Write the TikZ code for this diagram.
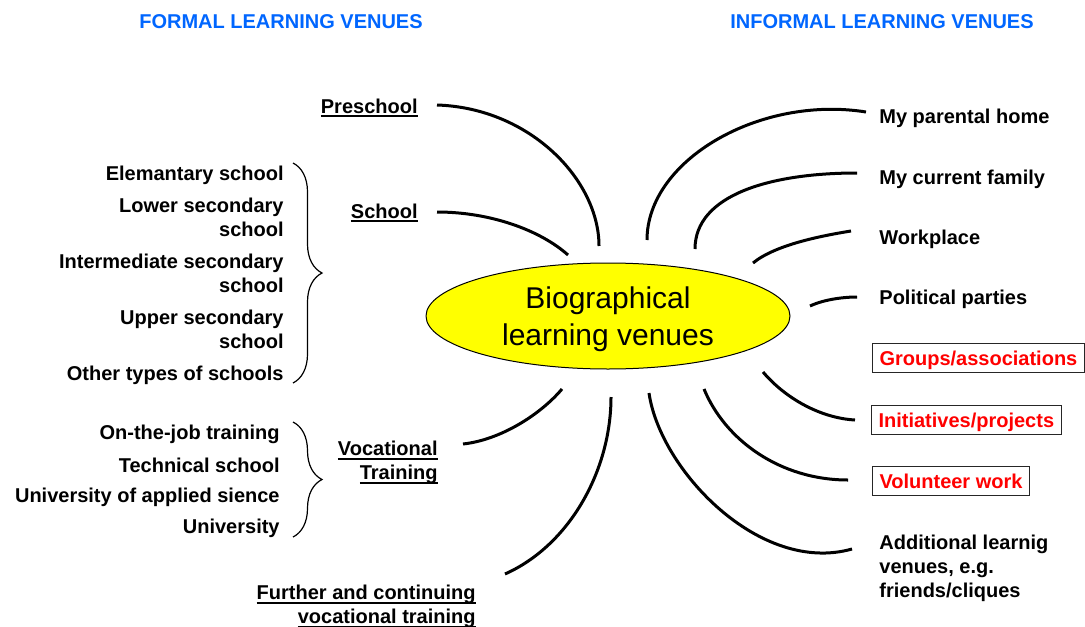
\documentclass[tikz,border=0pt]{standalone}
\usepackage{fontspec}
\setmainfont{Liberation Sans}
\usetikzlibrary{shapes.geometric,decorations.pathreplacing}
\definecolor{venueblue}{HTML}{0066FF}
\definecolor{venuered}{HTML}{FF0000}
\definecolor{venueyellow}{HTML}{FFFF00}
% underline at a fixed depth, also under descenders
\newcommand\venueul[1]{\setbox0=\hbox{#1}\rlap{\rule[-1.8pt]{\wd0}{0.8pt}}\box0}

\begin{document}
\begin{tikzpicture}[
    x=0.5pt,
    y=-0.5pt,
    font=\fontsize{10pt}{12pt}\selectfont\bfseries,
    head/.style={text=venueblue, inner sep=0pt, anchor=base},
    lab/.style={inner sep=0pt},
    tag/.style={draw=black!85, line width=0.5pt, text=venuered, inner xsep=3.5pt, inner ysep=3.5pt, text height=7.2pt, text depth=0pt, anchor=base west},
    hub/.style={ellipse, draw=black, line width=0.5pt, fill=venueyellow, minimum width=182pt, minimum height=53pt, inner sep=0pt, align=center, font=\fontsize{15pt}{18.5pt}\selectfont\mdseries, text depth=0pt},
    spoke/.style={line width=1.5pt},
    brace/.style={decorate, decoration={brace, amplitude=14.5pt}, line width=0.6pt}
  ]
    \useasboundingbox (0,0) rectangle (1085,626);

    \node[head] (formal) at (281,29) {FORMAL LEARNING VENUES};
    \node[head] (informal) at (882,29) {INFORMAL LEARNING VENUES};

    \node[hub] (hub) at (608,316) {Biographical\\learning venues};

    % formal venues
    \node[lab, anchor=base east] (pre) at (418,113) {\venueul{Preschool}};
    \node[lab, anchor=base east] (school) at (418,218) {\venueul{School}};
    \node[lab, anchor=north east, align=right] (voc) at (438,441) {\venueul{Vocational}\\\venueul{Training}};
    \node[lab, anchor=north east, align=right] (further) at (476,585) {\venueul{Further and continuing}\\\venueul{vocational training}};

    \node[lab, anchor=base east] (elem) at (284,180) {Elemantary school};
    \node[lab, anchor=north east, align=right] (lower) at (284,198) {Lower secondary\\school};
    \node[lab, anchor=north east, align=right] (inter) at (284,254) {Intermediate secondary\\school};
    \node[lab, anchor=north east, align=right] (upper) at (284,310) {Upper secondary\\school};
    \node[lab, anchor=base east] (other) at (284,380) {Other types of schools};

    \node[lab, anchor=base east] (job) at (280,439) {On-the-job training};
    \node[lab, anchor=base east] (tech) at (280,472) {Technical school};
    \node[lab, anchor=base east] (uas) at (280,502) {University of applied sience};
    \node[lab, anchor=base east] (uni) at (280,533) {University};

    \coordinate (schooltop) at (293,163);
    \coordinate (schoolbot) at (293,383);
    \coordinate (voctop) at (293,422);
    \coordinate (vocbot) at (293,537);
    \draw[brace] (schooltop) -- (schoolbot);
    \draw[brace] (voctop) -- (vocbot);

    % informal venues
    \node[lab, anchor=base west] (home) at (879,123) {My parental home};
    \node[lab, anchor=base west] (family) at (879,184) {My current family};
    \node[lab, anchor=base west] (work) at (879,244) {Workplace};
    \node[lab, anchor=base west] (party) at (879,304) {Political parties};
    \node[tag] (groups) at (872,365) {Groups/associations};
    \node[tag] (init) at (871,427) {Initiatives/projects};
    \node[tag] (vol) at (872,488) {Volunteer work};
    \node[lab, anchor=north west, align=left] (extra) at (879,535) {Additional learnig\\venues, e.g.\\friends/cliques};

    % spokes round the hub
    \coordinate (preA) at (437,105);    \coordinate (preB) at (599,246);
    \coordinate (schA) at (437,212);    \coordinate (schB) at (568,255);
    \coordinate (vocA) at (463,444);    \coordinate (vocB) at (562,389);
    \coordinate (furA) at (505,574);    \coordinate (furB) at (611,397);
    \coordinate (homeA) at (866,112);   \coordinate (homeB) at (647,240);
    \coordinate (famA) at (857,173);    \coordinate (famB) at (695,249);
    \coordinate (workA) at (851,231);   \coordinate (workB) at (753,263);
    \coordinate (partyA) at (857,297);  \coordinate (partyB) at (810,306);
    \coordinate (initA) at (855,420);   \coordinate (initB) at (763,372);
    \coordinate (volA) at (848,480);    \coordinate (volB) at (704,389);
    \coordinate (extraA) at (852,549);  \coordinate (extraB) at (649,393);

    \draw[spoke] (preA) .. controls (530,108) and (599,180) .. (preB);
    \draw[spoke] (schA) .. controls (490,212) and (540,230) .. (schB);
    \draw[spoke] (vocA) .. controls (500,440) and (540,415) .. (vocB);
    \draw[spoke] (furA) .. controls (570,545) and (611,470) .. (furB);
    \draw[spoke] (homeA) .. controls (760,95) and (647,160) .. (homeB);
    \draw[spoke] (famA) .. controls (770,173) and (695,195) .. (famB);
    \draw[spoke] (workA) .. controls (820,236) and (775,245) .. (workB);
    \draw[spoke] (partyA) .. controls (845,297) and (825,299) .. (partyB);
    \draw[spoke] (initA) .. controls (820,418) and (785,398) .. (initB);
    \draw[spoke] (volA) .. controls (780,480) and (725,440) .. (volB);
    \draw[spoke] (extraA) .. controls (760,575) and (660,470) .. (extraB);
  \end{tikzpicture}
\end{document}
